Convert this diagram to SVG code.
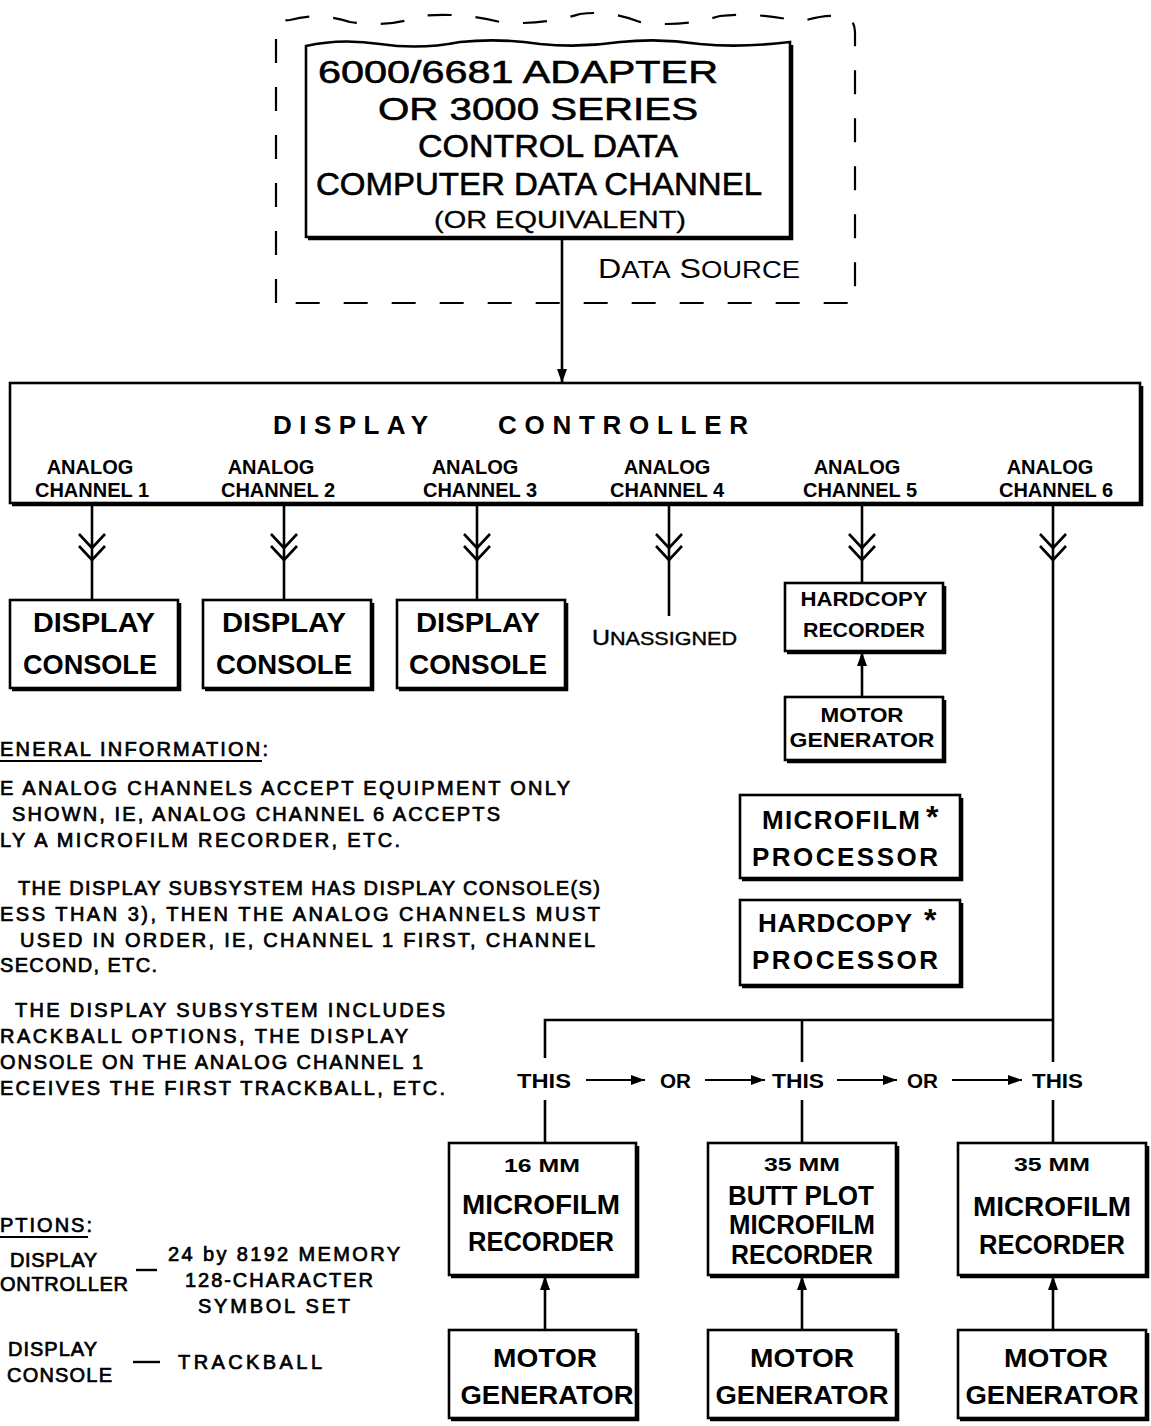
<svg xmlns="http://www.w3.org/2000/svg" width="1151" height="1426" viewBox="0 0 1151 1426">
<style>
.t{font-family:"Liberation Sans",Arial,sans-serif;fill:#000;}
.b{font-weight:bold;}
.m{stroke:#000;stroke-width:0.7;}
.box{fill:#fff;stroke:#000;stroke-width:2.6;}
.sh{fill:none;stroke:#000;stroke-width:2.6;}
.ln{fill:none;stroke:#000;stroke-width:2.6;}
.dash{fill:none;stroke:#000;stroke-width:2.2;stroke-dasharray:24 24;}
</style>
<defs>
<marker id="ah" markerUnits="userSpaceOnUse" markerWidth="15" markerHeight="12" refX="14" refY="6" orient="auto">
<path d="M0,1 L14,6 L0,11 Z" fill="#000"/>
</marker>
<g id="chev">
<path d="M-13,-14 L0,0 L13,-14 M-13,-2 L0,12 L13,-2" fill="none" stroke="#000" stroke-width="2.6"/>
</g>
</defs>

<g id="data-source-boundary">
<path class="dash" d="M276,303 V30 Q276,20 290,20 Q320,12 350,22 Q390,28 420,16 Q460,12 500,22 Q540,26 580,14 Q610,10 640,22 Q680,28 720,16 Q760,12 800,22 Q830,12 848,18 Q855,22 855,32 V303 Z"/>
</g>

<g id="adapter">
<path class="box" d="M306,237 V46 Q340,38 380,44 Q420,50 460,42 Q500,38 540,44 Q580,48 620,42 Q660,38 700,44 Q740,48 790,42 V237 Z"/>
<path class="sh" d="M308,239 H792 V45"/>
<text class="t" x="318" y="83" font-size="32" textLength="400" lengthAdjust="spacingAndGlyphs" stroke="#000" stroke-width="0.6">6000/6681 ADAPTER</text>
<text class="t" x="378" y="120" font-size="32" textLength="320" lengthAdjust="spacingAndGlyphs" stroke="#000" stroke-width="0.6">OR 3000 SERIES</text>
<text class="t" x="418" y="157" font-size="32" textLength="260" lengthAdjust="spacingAndGlyphs" stroke="#000" stroke-width="0.6">CONTROL DATA</text>
<text class="t" x="316" y="195" font-size="32" textLength="446" lengthAdjust="spacingAndGlyphs" stroke="#000" stroke-width="0.6">COMPUTER DATA CHANNEL</text>
<text class="t" x="434" y="228" font-size="24" textLength="252" lengthAdjust="spacingAndGlyphs" stroke="#000" stroke-width="0.3">(OR EQUIVALENT)</text>
</g>

<g id="data-source-label">
<text class="t" x="598" y="278" font-size="27" textLength="202" lengthAdjust="spacingAndGlyphs">D<tspan font-size="23">ATA</tspan> S<tspan font-size="23">OURCE</tspan></text>
</g>

<g id="display-controller">
<rect class="box" x="10" y="383" width="1130" height="120"/>
<path class="sh" d="M12,505 H1142 V386"/>
<text class="t b" x="273" y="434" font-size="26" textLength="155" lengthAdjust="spacing">DISPLAY</text>
<text class="t b" x="498" y="434" font-size="26" textLength="250" lengthAdjust="spacing">CONTROLLER</text>
<g font-size="20" text-anchor="middle" class="t b">
<text class="t b" x="90" y="474">ANALOG</text><text class="t b" x="92" y="497">CHANNEL 1</text>
<text class="t b" x="271" y="474">ANALOG</text><text class="t b" x="278" y="497">CHANNEL 2</text>
<text class="t b" x="475" y="474">ANALOG</text><text class="t b" x="480" y="497">CHANNEL 3</text>
<text class="t b" x="667" y="474">ANALOG</text><text class="t b" x="667" y="497">CHANNEL 4</text>
<text class="t b" x="857" y="474">ANALOG</text><text class="t b" x="860" y="497">CHANNEL 5</text>
<text class="t b" x="1050" y="474">ANALOG</text><text class="t b" x="1056" y="497">CHANNEL 6</text>
</g>
</g>

<g id="console-1">
<rect class="box" x="10" y="600" width="168" height="88"/>
<path class="sh" d="M12,690 H180 V603"/>
<text class="t b" x="94" y="632" font-size="27" text-anchor="middle" textLength="122" lengthAdjust="spacingAndGlyphs">DISPLAY</text>
<text class="t b" x="90" y="674" font-size="27" text-anchor="middle" textLength="134" lengthAdjust="spacingAndGlyphs">CONSOLE</text>
</g>
<g id="console-2">
<rect class="box" x="203" y="600" width="168" height="88"/>
<path class="sh" d="M205,690 H373 V603"/>
<text class="t b" x="284" y="632" font-size="27" text-anchor="middle" textLength="124" lengthAdjust="spacingAndGlyphs">DISPLAY</text>
<text class="t b" x="284" y="674" font-size="27" text-anchor="middle" textLength="136" lengthAdjust="spacingAndGlyphs">CONSOLE</text>
</g>
<g id="console-3">
<rect class="box" x="397" y="600" width="168" height="88"/>
<path class="sh" d="M399,690 H567 V603"/>
<text class="t b" x="478" y="632" font-size="27" text-anchor="middle" textLength="124" lengthAdjust="spacingAndGlyphs">DISPLAY</text>
<text class="t b" x="478" y="674" font-size="27" text-anchor="middle" textLength="138" lengthAdjust="spacingAndGlyphs">CONSOLE</text>
</g>

<g id="unassigned">
<text class="t" x="592" y="645" font-size="22" textLength="145" lengthAdjust="spacingAndGlyphs" stroke="#000" stroke-width="0.4">U<tspan font-size="19">NASSIGNED</tspan></text>
</g>

<g id="hardcopy-recorder">
<rect class="box" x="785" y="583" width="158" height="68"/>
<path class="sh" d="M787,653 H945 V586"/>
<text class="t b" x="864" y="606" font-size="20" text-anchor="middle" textLength="127" lengthAdjust="spacingAndGlyphs">HARDCOPY</text>
<text class="t b" x="864" y="637" font-size="20" text-anchor="middle" textLength="122" lengthAdjust="spacingAndGlyphs">RECORDER</text>
</g>
<g id="motor-generator-5">
<rect class="box" x="785" y="697" width="158" height="63"/>
<path class="sh" d="M787,762 H945 V700"/>
<text class="t b" x="862" y="722" font-size="20" text-anchor="middle" textLength="83" lengthAdjust="spacingAndGlyphs">MOTOR</text>
<text class="t b" x="862" y="747" font-size="20" text-anchor="middle" textLength="145" lengthAdjust="spacingAndGlyphs">GENERATOR</text>
</g>

<g id="microfilm-processor">
<rect class="box" x="740" y="795" width="220" height="83"/>
<path class="sh" d="M742,880 H962 V798"/>
<text class="t b" x="762" y="829" font-size="26" textLength="158" lengthAdjust="spacing">MICROFILM</text>
<text class="t b" x="926" y="828" font-size="32">*</text>
<text class="t b" x="752" y="866" font-size="26" textLength="186" lengthAdjust="spacing">PROCESSOR</text>
</g>
<g id="hardcopy-processor">
<rect class="box" x="740" y="900" width="220" height="85"/>
<path class="sh" d="M742,987 H962 V903"/>
<text class="t b" x="758" y="932" font-size="26" textLength="154" lengthAdjust="spacing">HARDCOPY</text>
<text class="t b" x="924" y="931" font-size="32">*</text>
<text class="t b" x="752" y="969" font-size="26" textLength="186" lengthAdjust="spacing">PROCESSOR</text>
</g>

<g id="recorder-16mm">
<rect class="box" x="449" y="1143" width="187" height="132"/>
<path class="sh" d="M451,1277 H638 V1146"/>
<text class="t b" x="542" y="1172" font-size="19" text-anchor="middle" textLength="76" lengthAdjust="spacingAndGlyphs">16 MM</text>
<text class="t b" x="541" y="1214" font-size="27" text-anchor="middle" textLength="158" lengthAdjust="spacingAndGlyphs">MICROFILM</text>
<text class="t b" x="541" y="1251" font-size="27" text-anchor="middle" textLength="146" lengthAdjust="spacingAndGlyphs">RECORDER</text>
</g>
<g id="recorder-35mm-butt">
<rect class="box" x="708" y="1143" width="188" height="132"/>
<path class="sh" d="M710,1277 H898 V1146"/>
<text class="t b" x="802" y="1171" font-size="19" text-anchor="middle" textLength="76" lengthAdjust="spacingAndGlyphs">35 MM</text>
<text class="t b" x="801" y="1205" font-size="27" text-anchor="middle" textLength="146" lengthAdjust="spacingAndGlyphs">BUTT PLOT</text>
<text class="t b" x="802" y="1234" font-size="27" text-anchor="middle" textLength="146" lengthAdjust="spacingAndGlyphs">MICROFILM</text>
<text class="t b" x="802" y="1264" font-size="27" text-anchor="middle" textLength="142" lengthAdjust="spacingAndGlyphs">RECORDER</text>
</g>
<g id="recorder-35mm">
<rect class="box" x="958" y="1143" width="188" height="132"/>
<path class="sh" d="M960,1277 H1148 V1146"/>
<text class="t b" x="1052" y="1171" font-size="19" text-anchor="middle" textLength="76" lengthAdjust="spacingAndGlyphs">35 MM</text>
<text class="t b" x="1052" y="1216" font-size="27" text-anchor="middle" textLength="158" lengthAdjust="spacingAndGlyphs">MICROFILM</text>
<text class="t b" x="1052" y="1254" font-size="27" text-anchor="middle" textLength="146" lengthAdjust="spacingAndGlyphs">RECORDER</text>
</g>

<g id="motor-generator-a">
<rect class="box" x="449" y="1330" width="187" height="88"/>
<path class="sh" d="M451,1420 H638 V1333"/>
<text class="t b" x="545" y="1367" font-size="26" text-anchor="middle" textLength="104" lengthAdjust="spacingAndGlyphs">MOTOR</text>
<text class="t b" x="547" y="1404" font-size="26" text-anchor="middle" textLength="173" lengthAdjust="spacingAndGlyphs">GENERATOR</text>
</g>
<g id="motor-generator-b">
<rect class="box" x="708" y="1330" width="188" height="88"/>
<path class="sh" d="M710,1420 H898 V1333"/>
<text class="t b" x="802" y="1367" font-size="26" text-anchor="middle" textLength="104" lengthAdjust="spacingAndGlyphs">MOTOR</text>
<text class="t b" x="802" y="1404" font-size="26" text-anchor="middle" textLength="173" lengthAdjust="spacingAndGlyphs">GENERATOR</text>
</g>
<g id="motor-generator-c">
<rect class="box" x="958" y="1330" width="188" height="88"/>
<path class="sh" d="M960,1420 H1148 V1333"/>
<text class="t b" x="1056" y="1367" font-size="26" text-anchor="middle" textLength="104" lengthAdjust="spacingAndGlyphs">MOTOR</text>
<text class="t b" x="1052" y="1404" font-size="26" text-anchor="middle" textLength="173" lengthAdjust="spacingAndGlyphs">GENERATOR</text>
</g>

<g id="connectors">
<line class="ln" x1="562" y1="239" x2="562" y2="383" marker-end="url(#ah)"/>
<line class="ln" x1="92" y1="503" x2="92" y2="600"/>
<use href="#chev" x="92" y="548"/>
<line class="ln" x1="284" y1="503" x2="284" y2="600"/>
<use href="#chev" x="284" y="548"/>
<line class="ln" x1="477" y1="503" x2="477" y2="600"/>
<use href="#chev" x="477" y="548"/>
<line class="ln" x1="669" y1="503" x2="669" y2="616"/>
<use href="#chev" x="669" y="548"/>
<line class="ln" x1="862" y1="503" x2="862" y2="583"/>
<use href="#chev" x="862" y="548"/>
<line class="ln" x1="862" y1="697" x2="862" y2="652" marker-end="url(#ah)"/>
<use href="#chev" x="1053" y="548"/>
<path class="ln" d="M1053,503 V1062 M545,1058 V1020 H1053 M802,1020 V1062"/>
<path class="ln" d="M545,1100 V1143 M802,1100 V1143 M1053,1100 V1143"/>
<line class="ln" x1="545" y1="1330" x2="545" y2="1276" marker-end="url(#ah)"/>
<line class="ln" x1="802" y1="1330" x2="802" y2="1276" marker-end="url(#ah)"/>
<line class="ln" x1="1053" y1="1330" x2="1053" y2="1276" marker-end="url(#ah)"/>
<line x1="586" y1="1080" x2="645" y2="1080" stroke="#000" stroke-width="2.2" marker-end="url(#ah)"/>
<line x1="705" y1="1080" x2="765" y2="1080" stroke="#000" stroke-width="2.2" marker-end="url(#ah)"/>
<line x1="837" y1="1080" x2="897" y2="1080" stroke="#000" stroke-width="2.2" marker-end="url(#ah)"/>
<line x1="952" y1="1080" x2="1022" y2="1080" stroke="#000" stroke-width="2.2" marker-end="url(#ah)"/>
</g>

<g id="choice-labels" class="t b" font-size="20">
<text class="t b" x="517" y="1088" textLength="54" lengthAdjust="spacingAndGlyphs">THIS</text>
<text class="t b" x="660" y="1088" textLength="31" lengthAdjust="spacingAndGlyphs">OR</text>
<text class="t b" x="772" y="1088" textLength="52" lengthAdjust="spacingAndGlyphs">THIS</text>
<text class="t b" x="907" y="1088" textLength="31" lengthAdjust="spacingAndGlyphs">OR</text>
<text class="t b" x="1032" y="1088" textLength="51" lengthAdjust="spacingAndGlyphs">THIS</text>
</g>

<g id="general-information" class="t" font-size="20">
<text class="t m" x="0" y="756" font-size="20" textLength="268" lengthAdjust="spacing">ENERAL INFORMATION:</text>
<line x1="0" y1="761" x2="262" y2="761" stroke="#000" stroke-width="2"/>
<text class="t m" x="0" y="795" font-size="20" textLength="570" lengthAdjust="spacing">E ANALOG CHANNELS ACCEPT EQUIPMENT ONLY</text>
<text class="t m" x="12" y="821" font-size="20" textLength="488" lengthAdjust="spacing">SHOWN, IE, ANALOG CHANNEL 6 ACCEPTS</text>
<text class="t m" x="0" y="847" font-size="20" textLength="400" lengthAdjust="spacing">LY A MICROFILM RECORDER, ETC.</text>
<text class="t m" x="18" y="895" font-size="20" textLength="582" lengthAdjust="spacing">THE DISPLAY SUBSYSTEM HAS DISPLAY CONSOLE(S)</text>
<text class="t m" x="0" y="921" font-size="20" textLength="600" lengthAdjust="spacing">ESS THAN 3), THEN THE ANALOG CHANNELS MUST</text>
<text class="t m" x="20" y="947" font-size="20" textLength="575" lengthAdjust="spacing">USED IN ORDER, IE, CHANNEL 1 FIRST, CHANNEL</text>
<text class="t m" x="0" y="972" font-size="20" textLength="157" lengthAdjust="spacing">SECOND, ETC.</text>
<text class="t m" x="15" y="1017" font-size="20" textLength="430" lengthAdjust="spacing">THE DISPLAY SUBSYSTEM INCLUDES</text>
<text class="t m" x="0" y="1043" font-size="20" textLength="408" lengthAdjust="spacing">RACKBALL OPTIONS, THE DISPLAY</text>
<text class="t m" x="0" y="1069" font-size="20" textLength="423" lengthAdjust="spacing">ONSOLE ON THE ANALOG CHANNEL 1</text>
<text class="t m" x="0" y="1095" font-size="20" textLength="445" lengthAdjust="spacing">ECEIVES THE FIRST TRACKBALL, ETC.</text>
</g>

<g id="options" class="t" font-size="20">
<text class="t m" x="0" y="1232" font-size="20" textLength="92" lengthAdjust="spacing">PTIONS:</text>
<line x1="0" y1="1237" x2="88" y2="1237" stroke="#000" stroke-width="2"/>
<text class="t m" x="10" y="1267" font-size="20" textLength="87" lengthAdjust="spacing">DISPLAY</text>
<text class="t m" x="0" y="1291" font-size="20" textLength="128" lengthAdjust="spacing">ONTROLLER</text>
<line x1="136" y1="1270" x2="157" y2="1270" stroke="#000" stroke-width="2.4"/>
<text class="t m" x="168" y="1261" font-size="20" textLength="232" lengthAdjust="spacing">24 by 8192 MEMORY</text>
<text class="t m" x="185" y="1287" font-size="20" textLength="188" lengthAdjust="spacing">128-CHARACTER</text>
<text class="t m" x="198" y="1313" font-size="20" textLength="152" lengthAdjust="spacing">SYMBOL SET</text>
<text class="t m" x="8" y="1356" font-size="20" textLength="89" lengthAdjust="spacing">DISPLAY</text>
<text class="t m" x="7" y="1382" font-size="20" textLength="105" lengthAdjust="spacing">CONSOLE</text>
<line x1="133" y1="1362" x2="160" y2="1362" stroke="#000" stroke-width="2.4"/>
<text class="t m" x="178" y="1369" font-size="20" textLength="144" lengthAdjust="spacing">TRACKBALL</text>
</g>
</svg>
